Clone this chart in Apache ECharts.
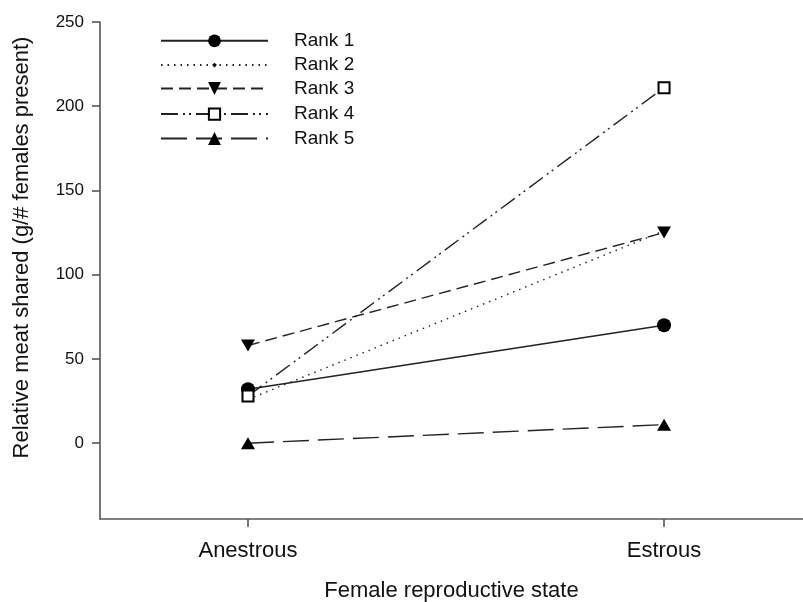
<!DOCTYPE html>
<html>
<head>
<meta charset="utf-8">
<script src="https://cdn.jsdelivr.net/npm/echarts@6/dist/echarts.min.js"></script>
<style>
html,body{margin:0;padding:0;background:#fff;}
#chart{width:803px;height:602px;}
</style>
</head>
<body>
<div id="chart"></div>
<script>
const categories = ['Anestrous', 'Estrous'];
const seriesNames = ['Rank 1', 'Rank 2', 'Rank 3', 'Rank 4', 'Rank 5'];
const rank1 = [32, 70];
const rank2 = [26, 126];
const rank3 = [58, 125];
const rank4 = [28, 211];
const rank5 = [0, 11];
const yTicks = [0, 50, 100, 150, 200, 250];

const FONT = '"Liberation Sans", Arial, sans-serif';
const toData = vals => categories.map((c, i) => [i + 1, vals[i]]);

const styles = [
  { vals: rank1, symbol: 'circle', size: 14, dash: 'solid', legendH: 16 },
  { vals: rank2, symbol: 'diamond', size: 6, dash: [1.5, 5], legendH: 6 },
  { vals: rank3, symbol: 'path://M0,0L20,0L10,17Z', size: [14, 12], dash: [12, 6], legendH: 16 },
  { vals: rank4, symbol: 'emptyRect', size: 11, dash: [17, 5, 2, 4, 2, 5], legendH: 14 },
  { vals: rank5, symbol: 'triangle', size: [14, 12], dash: [26, 9], legendH: 16 }
];
const legendRows = [40, 64.3, 87.7, 113.3, 137.7];

const series = styles.map((s, i) => ({
  name: seriesNames[i],
  type: 'line',
  data: toData(s.vals),
  symbol: s.symbol,
  symbolSize: s.size,
  showAllSymbol: true,
  lineStyle: { color: '#222', width: 1.4, type: s.dash },
  itemStyle: { color: '#000', borderColor: '#000', borderWidth: s.symbol === 'emptyRect' ? 1.6 : 0 },
  emphasis: { disabled: true },
  animation: false,
  z: 2 + i
}));

const legends = styles.map((s, i) => ({
  data: [seriesNames[i]],
  left: 160,
  top: legendRows[i] - 8.7,
  orient: 'vertical',
  padding: 0,
  itemWidth: 107,
  itemHeight: s.legendH,
  selectedMode: false,
  textStyle: { fontFamily: FONT, fontSize: 19, color: '#111', padding: [0, 0, 0, 21] }
}));

const chart = echarts.init(document.getElementById('chart'), null, { renderer: 'canvas' });
chart.setOption({
  animation: false,
  backgroundColor: '#fff',
  grid: { left: 100, right: 0, top: 22, bottom: 83, containLabel: false, outerBoundsMode: 'none' },
  legend: legends,
  xAxis: {
    type: 'value',
    min: 0.6443,
    max: 2.334,
    name: 'Female reproductive state',
    nameLocation: 'middle',
    nameGap: 61,
    nameTextStyle: { fontFamily: FONT, fontSize: 22, color: '#111' },
    axisLine: { show: true, onZero: false, lineStyle: { color: '#555', width: 1.6 } },
    axisTick: { show: true, length: 8, customValues: [1, 2], lineStyle: { color: '#555', width: 1.6 } },
    axisLabel: {
      customValues: [1, 2],
      margin: 21,
      fontFamily: FONT, fontSize: 22, color: '#111',
      formatter: v => categories[Math.round(v) - 1] || ''
    },
    splitLine: { show: false }
  },
  yAxis: {
    type: 'value',
    min: -45,
    max: 250,
    name: 'Relative meat shared (g/# females present)',
    nameLocation: 'middle',
    nameRotate: 90,
    nameGap: 67,
    nameTextStyle: { fontFamily: FONT, fontSize: 22, color: '#111', padding: [0, 0, 0, 46] },
    axisLine: { show: true, onZero: false, lineStyle: { color: '#555', width: 1.6 } },
    axisTick: { show: true, length: 8, customValues: yTicks, lineStyle: { color: '#555', width: 1.6 } },
    axisLabel: { customValues: yTicks, margin: 16, fontFamily: FONT, fontSize: 17, color: '#111' },
    splitLine: { show: false }
  },
  series: series
});
</script>
</body>
</html>
